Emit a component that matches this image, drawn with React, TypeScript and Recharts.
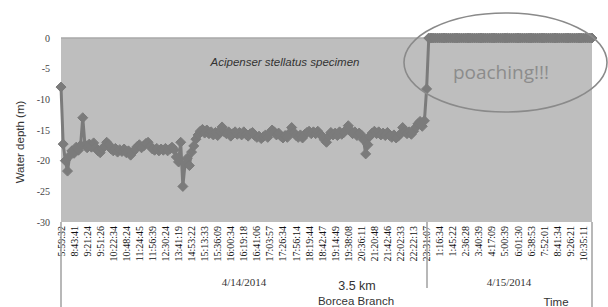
import React from "react";
import { LineChart, Line, XAxis, YAxis, CartesianGrid, ReferenceLine } from "recharts";

// Water depth (m) of the tagged specimen, one reading per sample
const depth = [
  -8.0, -17.3, -20.0, -21.7, -19.2, -18.4, -18.8, -17.8, -18.3, -17.5,
  -13.0, -17.4, -17.9, -17.3, -17.8, -17.1, -17.9, -18.4, -18.7, -18.0,
  -17.7, -17.0, -17.4, -18.1, -18.4, -18.0, -18.6, -18.2, -18.5, -18.1,
  -18.7, -18.4, -19.1, -18.6, -18.2, -17.7, -17.4, -17.9, -17.6, -17.2,
  -17.0, -17.6, -18.1, -18.3, -18.0, -18.4, -18.1, -18.3, -18.0, -18.4,
  -18.1, -17.8, -18.2, -19.4, -20.2, -17.0, -24.2, -20.5, -19.6, -20.8,
  -18.6, -17.6, -16.5, -15.8, -15.2, -14.9, -15.5, -15.0, -15.6, -15.3,
  -15.8, -15.4, -15.9, -15.2, -14.5, -15.3, -15.6, -15.3, -16.0, -15.6,
  -15.3, -15.7, -15.4, -15.8, -15.3, -15.7, -16.0, -15.6, -15.4, -15.9,
  -16.2, -16.0, -16.4, -16.1, -15.8, -16.2, -15.5, -15.0, -15.3, -15.8,
  -15.5, -16.0, -16.3, -15.9, -16.2, -15.5, -14.6, -15.4, -15.9, -16.2,
  -15.8, -16.3, -15.7, -15.4, -15.2, -15.6, -15.3, -15.6, -15.2, -15.7,
  -16.0, -16.6, -17.0, -16.0, -15.4, -15.8, -15.5, -15.9, -15.3, -15.7,
  -15.4, -15.0, -14.3, -15.1, -15.6, -15.3, -15.9, -15.5, -15.8, -16.6,
  -18.9, -17.4, -16.0, -15.5, -15.2, -15.6, -15.3, -15.8, -15.5, -15.9,
  -15.4, -15.9, -16.2, -15.8, -16.3, -16.0, -15.6, -14.6, -15.2, -15.6,
  -15.3, -15.7, -15.2, -14.6, -14.0, -13.6, -14.4, -13.5, -8.3,
  0, 0, 0, 0, 0, 0, 0, 0, 0, 0,
  0, 0, 0, 0, 0, 0, 0, 0, 0, 0,
  0, 0, 0, 0, 0, 0, 0, 0, 0, 0,
  0, 0, 0, 0, 0, 0, 0, 0, 0, 0,
  0, 0, 0, 0, 0, 0, 0, 0, 0, 0,
  0, 0, 0, 0, 0, 0, 0, 0, 0, 0,
  0, 0, 0, 0, 0, 0, 0, 0, 0, 0,
  0, 0, 0, 0, 0, 0,
];

// Time labels, one every LABEL_STEP samples
const timeLabels = [
  "5:59:32", "8:43:41", "9:21:24", "9:51:26", "10:22:34", "10:48:24", "11:24:45",
  "11:56:39", "12:30:24", "13:41:19", "14:53:22", "15:13:33", "15:36:09", "16:00:34",
  "16:19:18", "16:41:06", "17:03:57", "17:26:34", "17:56:14", "18:19:44", "18:42:47",
  "19:14:49", "19:38:08", "20:36:11", "21:20:48", "21:42:46", "22:02:33", "22:22:13",
  "23:31:07", "1:16:34", "1:45:22", "2:36:28", "3:40:39", "4:17:09", "5:00:39",
  "6:01:30", "6:38:53", "7:52:01", "8:41:34", "9:26:21", "10:35:11",
];
const LABEL_STEP = 6;

const yTicks = [0, -5, -10, -15, -20, -25, -30];
const dates = ["4/14/2014", "4/15/2014"];

const data = depth.map((v, i) => ({ i, v }));
const xTicks = timeLabels.map((_, k) => k * LABEL_STEP);

const SERIES = "#7b7b7b";
const SERIF = "'Liberation Serif', 'Times New Roman', serif";
const SANS = "'Liberation Sans', Arial, sans-serif";

const Diamond = (props: any) => {
  const { cx, cy, index } = props;
  if (cx == null || cy == null) return <g key={index} />;
  const r = 5;
  return (
    <polygon
      key={index}
      points={`${cx},${cy - r} ${cx + r},${cy} ${cx},${cy + r} ${cx - r},${cy}`}
      fill={SERIES}
      stroke={SERIES}
      strokeWidth={1}
    />
  );
};

const TimeTick = (props: any) => {
  const { x, y, payload } = props;
  const k = Math.round(payload.value / LABEL_STEP);
  return (
    <text
      x={x}
      y={y}
      transform={`rotate(-90, ${x}, ${y})`}
      textAnchor="end"
      dominantBaseline="central"
      style={{ fontFamily: SERIF, fontSize: 10 }}
      fill="#111"
    >
      {timeLabels[k]}
    </text>
  );
};

const DepthTick = (props: any) => {
  const { x, y, payload } = props;
  return (
    <text
      x={x}
      y={y}
      textAnchor="end"
      dominantBaseline="central"
      style={{ fontFamily: SERIF, fontSize: 10 }}
      fill="#444"
    >
      {payload.value}
    </text>
  );
};

export default function App() {
  return (
    <div style={{ position: "absolute", left: 0, top: 0, width: 608, height: 307, background: "#fff", overflow: "hidden" }}>
      <LineChart
        width={608}
        height={307}
        data={data}
        margin={{ top: 38, right: 16, left: 0, bottom: 0 }}
      >
        <CartesianGrid fill="#bebebe" horizontal={false} vertical={false} />
        <XAxis
          dataKey="i"
          type="number"
          domain={[0, depth.length - 1]}
          ticks={xTicks}
          interval={0}
          height={85}
          axisLine={false}
          tickLine={false}
          tickSize={0}
          tickMargin={4}
          tick={<TimeTick />}
        />
        <YAxis
          domain={[-30, 0]}
          ticks={yTicks}
          width={61}
          axisLine={false}
          tickLine={false}
          tickSize={6}
          tickMargin={5}
          tick={<DepthTick />}
        />
        <ReferenceLine y={0} stroke="#a8a8a8" strokeWidth={1.5} />
        <Line
          type="linear"
          dataKey="v"
          stroke={SERIES}
          strokeWidth={3}
          dot={<Diamond />}
          isAnimationActive={false}
        />
      </LineChart>
      <svg
        width={608}
        height={307}
        style={{ position: "absolute", left: 0, top: 0, pointerEvents: "none" }}
      >
        <line x1={61} y1={222} x2={61} y2={307} stroke="#a0a0a0" strokeWidth={1.5} />
        <line x1={427} y1={222} x2={427} y2={288} stroke="#a0a0a0" strokeWidth={1.5} />
        <line x1={592} y1={222} x2={592} y2={307} stroke="#a0a0a0" strokeWidth={1.5} />
        <text
          x={20}
          y={142}
          transform="rotate(-90, 20, 142)"
          textAnchor="middle"
          dominantBaseline="central"
          style={{ fontFamily: SANS, fontSize: 11.5 }}
          fill="#333"
        >
          Water depth (m)
        </text>
        <text
          x={285}
          y={66}
          textAnchor="middle"
          style={{ fontFamily: SANS, fontSize: 11.5, fontStyle: "italic" }}
          fill="#333"
        >
          Acipenser stellatus specimen
        </text>
        <ellipse cx={505.5} cy={62.5} rx={101.5} ry={49.5} fill="none" stroke="#8a8a8a" strokeWidth={1.6} />
        <text
          x={501}
          y={79}
          textAnchor="middle"
          style={{ fontFamily: "'Open Sans', 'Liberation Sans', sans-serif", fontSize: 19 }}
          fill="#8c8c8c"
        >
          poaching!!!
        </text>
        <text x={244} y={286} textAnchor="middle" style={{ fontFamily: SERIF, fontSize: 11 }} fill="#333">
          {dates[0]}
        </text>
        <text x={509} y={286} textAnchor="middle" style={{ fontFamily: SERIF, fontSize: 11 }} fill="#333">
          {dates[1]}
        </text>
        <text x={357} y={290} textAnchor="middle" style={{ fontFamily: SANS, fontSize: 12.5 }} fill="#333">
          3.5 km
        </text>
        <text x={356} y={305} textAnchor="middle" style={{ fontFamily: SANS, fontSize: 11.5 }} fill="#333">
          Borcea Branch
        </text>
        <text x={556} y={306} textAnchor="middle" style={{ fontFamily: SANS, fontSize: 11.5 }} fill="#333">
          Time
        </text>
      </svg>
    </div>
  );
}
